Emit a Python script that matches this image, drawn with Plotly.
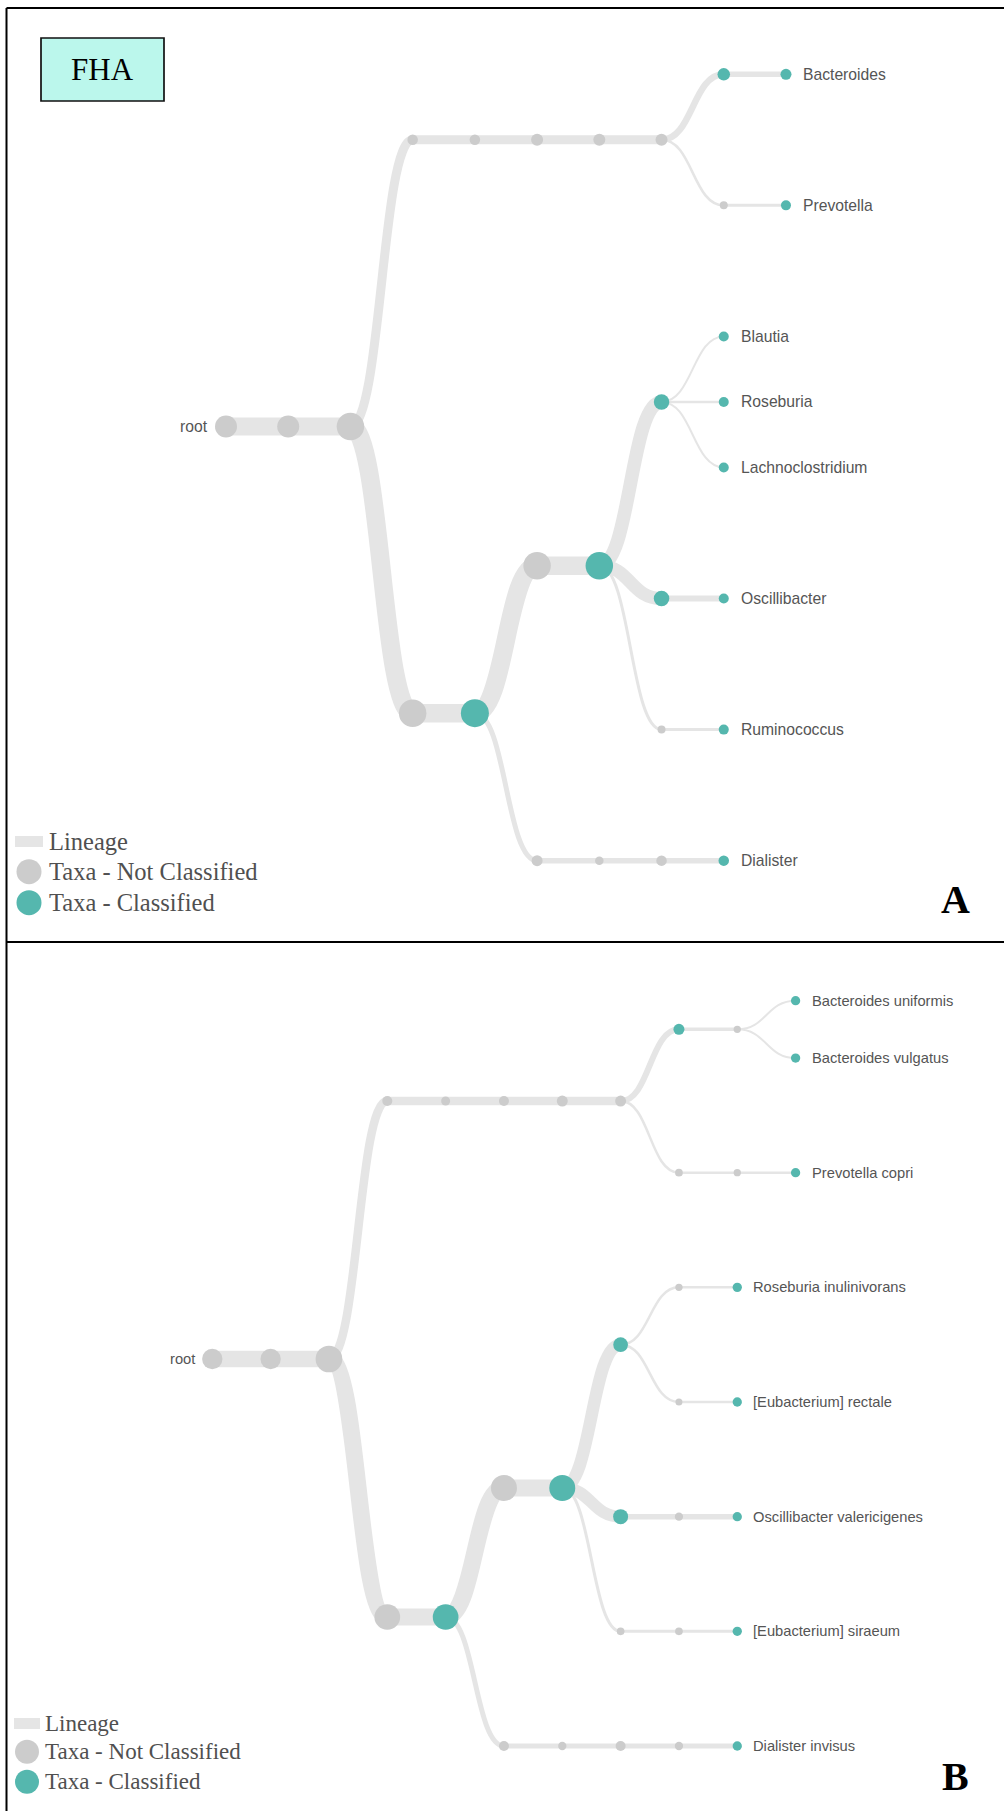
import plotly.graph_objects as go

W, H = 1004, 1811

# ---------------- Panel A: genus-level lineage tree ----------------
A_NODES = [
    "root", "cellular organisms", "Bacteria",
    "FCB group", "Bacteroidetes/Chlorobi group", "Bacteroidetes", "Bacteroidia", "Bacteroidales",
    "Bacteroidaceae", "Bacteroides", "Prevotellaceae", "Prevotella",
    "Terrabacteria group", "Firmicutes", "Clostridia", "Clostridiales",
    "Lachnospiraceae", "Blautia", "Roseburia", "Lachnoclostridium",
    "Oscillospiraceae", "Oscillibacter", "Ruminococcaceae", "Ruminococcus",
    "Negativicutes", "Veillonellales", "Veillonellaceae", "Dialister",
]
A_PARENTS = [
    None, "root", "cellular organisms",
    "Bacteria", "FCB group", "Bacteroidetes/Chlorobi group", "Bacteroidetes", "Bacteroidia",
    "Bacteroidales", "Bacteroidaceae", "Bacteroidales", "Prevotellaceae",
    "Bacteria", "Terrabacteria group", "Firmicutes", "Clostridia",
    "Clostridiales", "Lachnospiraceae", "Lachnospiraceae", "Lachnospiraceae",
    "Clostridiales", "Oscillospiraceae", "Clostridiales", "Ruminococcaceae",
    "Firmicutes", "Negativicutes", "Veillonellales", "Veillonellaceae",
]
A_CLASSIFIED = [
    False, False, False,
    False, False, False, False, False,
    True, True, False, True,
    False, True, False, True,
    True, True, True, True,
    True, True, False, True,
    False, False, False, True,
]
# node weight (marker diameter units) and weight of the lineage edge leading into each node
A_NODE_WEIGHT = [
    22, 22, 27.5,
    10.5, 10.5, 12, 12, 12,
    12.5, 11, 8, 10,
    27.5, 28, 27.5, 27.5,
    15.5, 10, 10, 10,
    15.5, 10, 8, 10,
    11, 8.5, 10.5, 10.5,
]
A_LINK_WEIGHT = [
    0, 18, 18,
    9, 9, 9, 9, 9,
    6.5, 5.5, 2.5, 3,
    18.5, 18.5, 18.5, 18.5,
    13.5, 2, 2.5, 2,
    13, 6, 3, 3,
    5, 5.5, 5.5, 5.5,
]

# ---------------- Panel B: species-level lineage tree ----------------
B_NODES = [
    "root", "cellular organisms", "Bacteria",
    "FCB group", "Bacteroidetes/Chlorobi group", "Bacteroidetes", "Bacteroidia", "Bacteroidales",
    "Bacteroidaceae", "Bacteroides", "Bacteroides uniformis", "Bacteroides vulgatus",
    "Prevotellaceae", "Prevotella", "Prevotella copri",
    "Terrabacteria group", "Firmicutes", "Clostridia", "Clostridiales",
    "Lachnospiraceae", "Roseburia", "Roseburia inulinivorans",
    "Agathobacter", "[Eubacterium] rectale",
    "Oscillospiraceae", "Oscillibacter", "Oscillibacter valericigenes",
    "Ruminococcaceae", "Ruminococcaceae genus", "[Eubacterium] siraeum",
    "Negativicutes", "Veillonellales", "Veillonellaceae", "Dialister", "Dialister invisus",
]
B_PARENTS = [
    None, "root", "cellular organisms",
    "Bacteria", "FCB group", "Bacteroidetes/Chlorobi group", "Bacteroidetes", "Bacteroidia",
    "Bacteroidales", "Bacteroidaceae", "Bacteroides", "Bacteroides",
    "Bacteroidales", "Prevotellaceae", "Prevotella",
    "Bacteria", "Terrabacteria group", "Firmicutes", "Clostridia",
    "Clostridiales", "Lachnospiraceae", "Roseburia",
    "Lachnospiraceae", "Agathobacter",
    "Clostridiales", "Oscillospiraceae", "Oscillibacter",
    "Clostridiales", "Ruminococcaceae", "Ruminococcaceae genus",
    "Firmicutes", "Negativicutes", "Veillonellales", "Veillonellaceae", "Dialister",
]
B_CLASSIFIED = [
    False, False, False,
    False, False, False, False, False,
    True, False, True, True,
    False, False, True,
    False, True, False, True,
    True, False, True,
    False, True,
    True, False, True,
    False, False, True,
    False, False, False, False, True,
]
B_NODE_WEIGHT = [
    20.3, 20.3, 26.7,
    10, 9, 10, 11, 11,
    11, 7.3, 9.3, 9.3,
    7.7, 7.3, 9.3,
    25.7, 25.7, 26, 26,
    14.7, 7.3, 9.3,
    7, 9.3,
    15, 8.3, 9.3,
    7.7, 7.7, 9.3,
    10, 8.3, 10, 8.3, 9.3,
]
B_LINK_WEIGHT = [
    0, 16.5, 16.5,
    8.5, 8.5, 8.5, 8.5, 8.5,
    6, 3.5, 2, 2,
    2.5, 2.5, 2.5,
    17, 17, 17, 17,
    12.5, 2.5, 2.5,
    2.5, 2.5,
    12, 5.5, 5.5,
    3, 3, 3,
    5, 5, 5, 5, 5,
]

LINK_COLOR = "#E5E5E5"
GREY = "#CCCCCC"
TEAL = "#55B7AE"
LABEL_COLOR = "#555555"
SANS = "Liberation Sans, Arial, sans-serif"
SERIF = "Liberation Serif, Times New Roman, serif"


def tree_layout(nodes, parents):
    """Tidy-tree layout: depth on x, leaf slots on y (siblings 1 apart, cousins 2 apart)."""
    parent_of = dict(zip(nodes, parents))
    children = {n: [] for n in nodes}
    for n, p in zip(nodes, parents):
        if p is not None:
            children[p].append(n)
    depth, slot = {}, {}
    last = {"slot": None, "parent": None}

    def walk(n, d):
        depth[n] = d
        kids = children[n]
        if not kids:
            if last["slot"] is None:
                s = 0.0
            else:
                s = last["slot"] + (1 if last["parent"] == parent_of[n] else 2)
            slot[n] = s
            last["slot"], last["parent"] = s, parent_of[n]
        else:
            for k in kids:
                walk(k, d + 1)
            slot[n] = (slot[kids[0]] + slot[kids[-1]]) / 2

    walk(nodes[parents.index(None)], 0)
    return depth, slot, children


def add_tree(fig, nodes, parents, classified, node_w, link_w, xa, ya, scale, label_gap, root_gap):
    depth, slot, children = tree_layout(nodes, parents)

    # lineage edges: horizontal cubic links from parent to child
    for n, p, w in zip(nodes, parents, link_w):
        if p is None:
            continue
        x0, y0, x1, y1 = depth[p], slot[p], depth[n], slot[n]
        xm = (x0 + x1) / 2
        fig.add_shape(
            type="path",
            path=f"M {x0},{y0} C {xm},{y0} {xm},{y1} {x1},{y1}",
            xref=xa, yref=ya, layer="below",
            line=dict(color=LINK_COLOR, width=w),
            fillcolor="rgba(0,0,0,0)",
        )

    # taxa nodes
    for flag, color in ((False, GREY), (True, TEAL)):
        idx = [i for i, c in enumerate(classified) if c == flag]
        fig.add_trace(go.Scatter(
            x=[depth[nodes[i]] for i in idx],
            y=[slot[nodes[i]] for i in idx],
            mode="markers",
            marker=dict(size=[node_w[i] for i in idx], color=color, line=dict(width=0), opacity=1),
            text=[nodes[i] for i in idx], hoverinfo="text",
            xaxis=xa, yaxis=ya, showlegend=False,
        ))

    # leaf labels and root label
    font = dict(family=SANS, size=15.7 * scale, color=LABEL_COLOR)
    for n, p in zip(nodes, parents):
        if not children[n]:
            fig.add_annotation(x=depth[n], y=slot[n], xref=xa, yref=ya, text=n,
                               showarrow=False, xanchor="left", yanchor="middle",
                               xshift=label_gap, font=font)
        elif p is None:
            fig.add_annotation(x=depth[n], y=slot[n], xref=xa, yref=ya, text=n,
                               showarrow=False, xanchor="right", yanchor="middle",
                               xshift=-root_gap, font=font)


def px(x):
    return x / W


def py(y):
    return 1 - y / H


def add_legend(fig, x_sw, y_line, y_nc, y_c, r, text_x, size):
    fig.add_shape(type="rect", xref="paper", yref="paper",
                  x0=px(x_sw[0]), x1=px(x_sw[1]), y0=py(y_line[0]), y1=py(y_line[1]),
                  fillcolor=LINK_COLOR, line=dict(width=0))
    cx = (x_sw[0] + x_sw[1]) / 2
    for yc, col in ((y_nc, GREY), (y_c, TEAL)):
        fig.add_shape(type="circle", xref="paper", yref="paper",
                      x0=px(cx - r), x1=px(cx + r), y0=py(yc + r), y1=py(yc - r),
                      fillcolor=col, line=dict(width=0))
    f = dict(family=SERIF, size=size, color="#505050")
    for yc, txt in (((y_line[0] + y_line[1]) / 2, "Lineage"),
                    (y_nc, "Taxa - Not Classified"),
                    (y_c, "Taxa - Classified")):
        fig.add_annotation(x=px(text_x), y=py(yc), xref="paper", yref="paper", text=txt,
                           showarrow=False, xanchor="left", yanchor="middle", font=f)


fig = go.Figure()

# pixel geometry of each panel's tree (origin and step per depth / per leaf slot)
A_X0, A_DX, A_Y0, A_DY, A_TOP, A_BOT = 226.0, 62.22, 74.3, 65.53, 0.0, 942.0
B_X0, B_DX, B_Y0, B_DY, B_TOP, B_BOT = 212.3, 58.33, 1000.7, 57.33, 942.0, float(H)

add_tree(fig, A_NODES, A_PARENTS, A_CLASSIFIED, A_NODE_WEIGHT, A_LINK_WEIGHT,
         "x", "y", 1.0, 15, 16)
add_tree(fig, B_NODES, B_PARENTS, B_CLASSIFIED, B_NODE_WEIGHT, B_LINK_WEIGHT,
         "x2", "y2", 0.937, 14, 15)

add_legend(fig, (15, 43), (836, 847), 871.7, 902.7, 12.5, 46.7, 24.5)
add_legend(fig, (14, 40), (1718, 1729), 1751.7, 1781.7, 12, 43.3, 23)

# FHA tag
fig.add_shape(type="rect", xref="paper", yref="paper",
              x0=px(41), x1=px(164), y0=py(101), y1=py(38),
              fillcolor="#BBF7EC", line=dict(color="#111111", width=1.7))
fig.add_annotation(x=px(102.5), y=py(69), xref="paper", yref="paper", text="FHA",
                   showarrow=False, xanchor="center", yanchor="middle",
                   font=dict(family=SERIF, size=31, color="black"))

# panel letters
for letter, yc in (("A", 899), ("B", 1776)):
    fig.add_annotation(x=px(955.5), y=py(yc), xref="paper", yref="paper", text=f"<b>{letter}</b>",
                       showarrow=False, xanchor="center", yanchor="middle",
                       font=dict(family=SERIF, size=40, color="black"))

# panel frame lines
frame = dict(color="black", width=2)
fig.add_shape(type="line", xref="paper", yref="paper", x0=px(6.5), x1=1, y0=py(8), y1=py(8), line=frame)
fig.add_shape(type="line", xref="paper", yref="paper", x0=px(6.5), x1=px(6.5), y0=py(8), y1=0, line=frame)
fig.add_shape(type="line", xref="paper", yref="paper", x0=px(6.5), x1=1, y0=py(942), y1=py(942), line=frame)

axis_common = dict(visible=False, showgrid=False, zeroline=False, fixedrange=True)
fig.update_layout(
    width=W, height=H, autosize=False,
    margin=dict(l=0, r=0, t=0, b=0, pad=0),
    paper_bgcolor="white", plot_bgcolor="rgba(0,0,0,0)",
    showlegend=False,
    xaxis=dict(domain=[0, 1], anchor="y",
               range=[-A_X0 / A_DX, (W - A_X0) / A_DX], **axis_common),
    yaxis=dict(domain=[1 - A_BOT / H, 1], anchor="x",
               range=[(A_BOT - A_Y0) / A_DY, (A_TOP - A_Y0) / A_DY], **axis_common),
    xaxis2=dict(domain=[0, 1], anchor="y2",
                range=[-B_X0 / B_DX, (W - B_X0) / B_DX], **axis_common),
    yaxis2=dict(domain=[0, 1 - B_TOP / H], anchor="x2",
                range=[(B_BOT - B_Y0) / B_DY, (B_TOP - B_Y0) / B_DY], **axis_common),
)

fig.write_html("out.html", config={"displayModeBar": False})
